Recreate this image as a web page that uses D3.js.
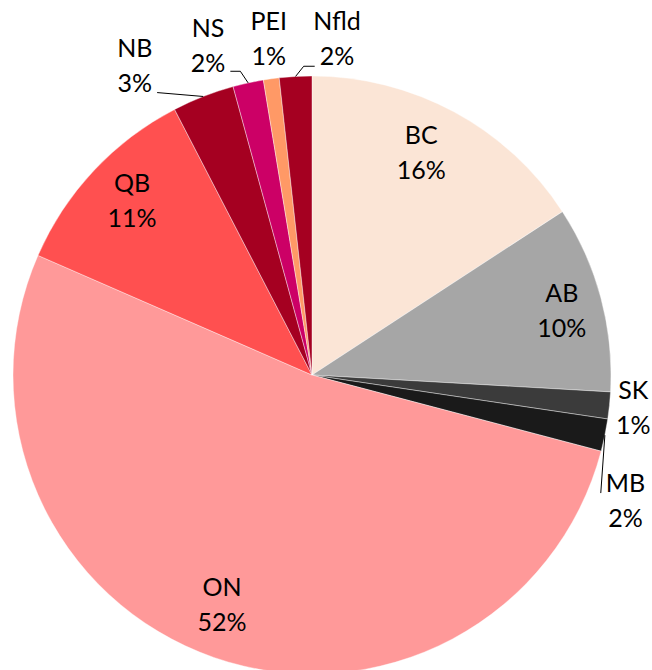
<!DOCTYPE html>
<html>
<head>
<meta charset="utf-8">
<style>
  body { margin: 0; background: #fff; }
  svg  { display: block; font-family: Lato, "Open Sans", sans-serif; }
</style>
<title>Share by province</title>
</head>
<body>
<script src="https://cdn.jsdelivr.net/npm/d3@7/dist/d3.min.js"></script>
<script>

// data //////////////////////////////////////////////////////////////////////

const provinces = ["BC", "AB", "SK", "MB", "ON", "QB", "NB", "NS", "PEI", "Nfld"];
const shares    = [15.8, 10.1, 1.45, 1.75, 52.45, 10.85, 3.35, 1.65, 0.85, 1.75];

const sliceColors = ["#FBE5D6", "#A6A6A6", "#3B3B3B", "#1A1A1A", "#FF9999",
                     "#FF5050", "#A50021", "#CC0066", "#FF9966", "#A50021"];

// label placement: radius as fraction of R, angle nudge in degrees
const labelLayout = {
	BC:   {r: 0.826, da: -2.2},
	AB:   {r: 0.863, da:  0.5},
	SK:   {r: 1.080, da:  0},
	MB:   {r: 1.130, da: 10.3, leader: {line: 0, side: "left",  dy: -8,   stub: 0}},
	ON:   {r: 0.826, da:  2.2},
	QB:   {r: 0.838, da:  1.0},
	NB:   {r: 1.191, da: -8.5, leader: {line: 1, side: "right", dy: 26.5, stub: 0}},
	NS:   {r: 1.154, da: -5.2, leader: {line: 1, side: "right", dy: 25.3, stub: 10}},
	PEI:  {r: 1.134, da:  0.5},
	Nfld: {r: 1.127, da:  7.4, leader: {line: 1, side: "left",  dy: 27.3, stub: 11}},
};

// chart /////////////////////////////////////////////////////////////////////

const width = 652, height = 670;
const cx = 312, cy = 375, R = 299;

const svg = d3.select("body").append("svg")
	.attr("width", width)
	.attr("height", height);

const g = svg.append("g")
	.attr("transform", `translate(${cx},${cy})`);

const color = d3.scaleOrdinal()
	.domain(provinces)
	.range(sliceColors);

const rows = provinces.map((p, i) => ({name: p, value: shares[i]}));

const pie = d3.pie()
	.sort(null)
	.value(d => d.value);

const arcs = pie(rows);

const arc = d3.arc()
	.innerRadius(0)
	.outerRadius(R);

g.selectAll("path.slice")
	.data(arcs)
	.join("path")
		.attr("class", "slice")
		.attr("d", arc)
		.attr("fill", d => color(d.data.name))
		.attr("stroke", "#fff")
		.attr("stroke-width", 0.4);

// labels //

const polar = (ang, r) => [Math.sin(ang) * r, -Math.cos(ang) * r];

arcs.forEach(a => {
	const lay = labelLayout[a.data.name];
	const mid = (a.startAngle + a.endAngle) / 2;
	const [lx, ly] = polar(mid + lay.da * Math.PI / 180, lay.r * R);

	const text = g.append("text")
		.attr("text-anchor", "middle")
		.attr("font-size", 25)
		.attr("fill", "#000");
	const lines = [a.data.name, Math.round(a.data.value) + "%"];
	const spans = lines.map((t, i) => text.append("tspan")
		.attr("x", lx)
		.attr("y", ly + (i === 0 ? -9 : 26))
		.text(t));

	if(lay.leader) {
		const L = lay.leader;
		const w = spans[L.line].node().getComputedTextLength();
		const sx = L.side === "left" ? lx - w / 2 - 5 : lx + w / 2 + 5;
		const sy = ly + L.dy;
		const [ex, ey] = polar(mid, R);
		const pts = [[sx, sy]];
		if(L.stub) pts.push([sx + (L.side === "left" ? -L.stub : L.stub), sy]);
		pts.push([ex, ey]);
		g.append("path")
			.attr("d", d3.line()(pts))
			.attr("fill", "none")
			.attr("stroke", "#000")
			.attr("stroke-width", 1);
	}
});

</script>
</body>
</html>
